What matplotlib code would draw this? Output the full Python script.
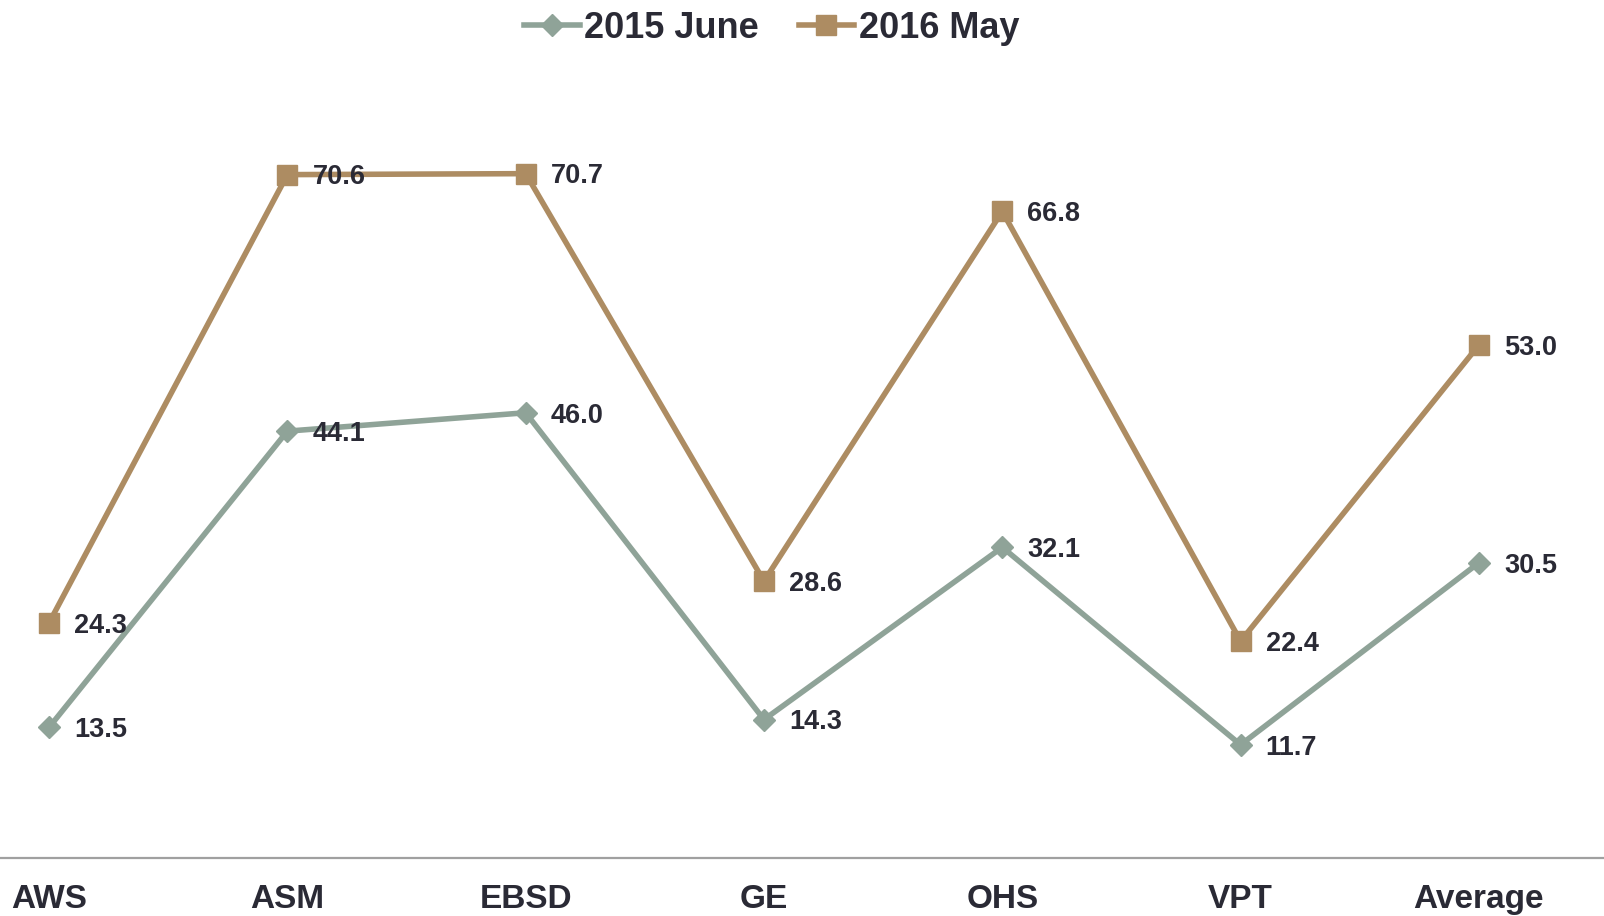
import matplotlib
matplotlib.use("Agg")
import matplotlib.pyplot as plt

plt.rcParams['font.family'] = ['Liberation Sans', 'DejaVu Sans']

# data
categories = ["AWS", "ASM", "EBSD", "GE", "OHS", "VPT", "Average"]
june_2015 = [13.5, 44.1, 46.0, 14.3, 32.1, 11.7, 30.5]
may_2016 = [24.3, 70.6, 70.7, 28.6, 66.8, 22.4, 53.0]

green = "#8FA398"
tan = "#AD8C62"
txt = "#2A2A35"

fig = plt.figure(figsize=(16.04, 9.16), dpi=100)
ax = fig.add_axes([0, 0.0633, 1, 0.8454])

x = list(range(len(categories)))
ax.plot(x, june_2015, color=green, lw=4, marker="D", ms=11, label="2015 June")
ax.plot(x, may_2016, color=tan, lw=4, marker="s", ms=14, label="2016 May")

for xi, v in zip(x, june_2015):
    ax.annotate(f"{v:.1f}", (xi, v), xytext=(18, -2), textcoords="offset points",
                ha="left", va="center", fontsize=19.5, fontweight="bold", color=txt)
for xi, v in zip(x, may_2016):
    ax.annotate(f"{v:.1f}", (xi, v), xytext=(18, -2), textcoords="offset points",
                ha="left", va="center", fontsize=19.5, fontweight="bold", color=txt)

ax.set_xlim(-0.206, 6.525)
ax.set_ylim(0, 80)
ax.set_xticks(x)
ax.set_xticklabels(categories, fontsize=24, fontweight="bold", color=txt)
ax.tick_params(axis="x", length=0, pad=19)
ax.set_yticks([])
for s in ["top", "left", "right"]:
    ax.spines[s].set_visible(False)
ax.spines["bottom"].set_color("#A0A0A0")
ax.spines["bottom"].set_linewidth(1.6)

fig.legend(loc="center", bbox_to_anchor=(0.481, 0.969), ncol=2, frameon=False,
           prop={"size": 26, "weight": "bold"}, labelcolor=txt,
           handlelength=1.55, handletextpad=0.12, columnspacing=1.1)

fig.savefig("out.png", dpi=100)
